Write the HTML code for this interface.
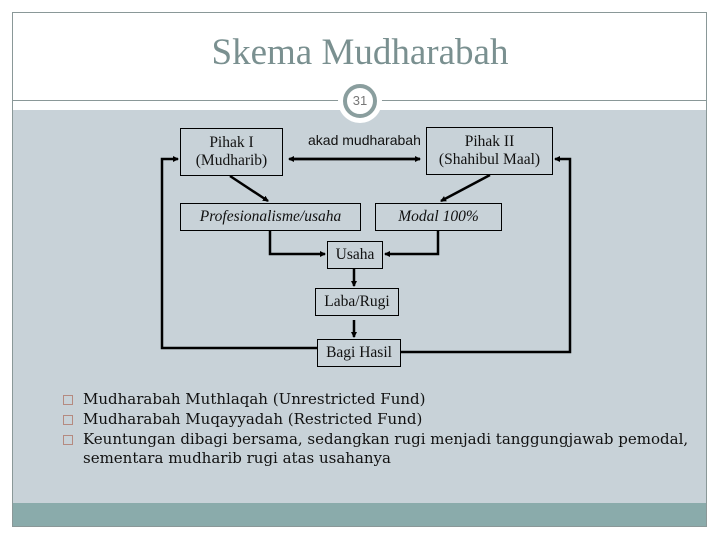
<!DOCTYPE html>
<html><head><meta charset="utf-8"><style>
body{margin:0;width:720px;height:540px;background:#fff;position:relative;overflow:hidden;font-family:"Liberation Serif",serif}
.a{position:absolute}
.box{position:absolute;border:1px solid #000;box-sizing:border-box;display:flex;align-items:center;justify-content:center;text-align:center;font-size:15.5px;line-height:18px;color:#111;white-space:nowrap}
.b{position:absolute;left:63px;width:10px;height:10px;border:1px solid #b58a80;box-sizing:border-box}
.t{position:absolute;left:83px;font-family:"DejaVu Serif",serif;font-size:15px;color:#111;line-height:19px;white-space:nowrap}
</style></head><body>
<div class="a" style="left:12px;top:12px;width:695px;height:515px;border:1px solid #8a9898;box-sizing:border-box"></div>
<div class="a" style="left:13px;top:110px;width:693px;height:393px;background:#c8d2d8"></div>
<div class="a" style="left:13px;top:503px;width:693px;height:23px;background:#8aabab"></div>
<div class="a" style="left:13px;top:100px;width:693px;height:1px;background:#8a9898"></div>
<div class="a" style="left:0;width:720px;top:31px;text-align:center;font-size:37px;color:#7a9090">Skema Mudharabah</div>
<div class="a" style="left:338px;top:79px;width:44px;height:44px;border-radius:50%;background:#fff"></div>
<div class="a" style="left:343px;top:84px;width:34px;height:34px;border-radius:50%;border:4px solid #8a9e9e;box-sizing:border-box;background:#fff;text-align:center;font:13px/26px 'Liberation Sans',sans-serif;color:#777">31</div>
<div class="box" style="left:180px;top:128px;width:103px;height:48px">Pihak I<br>(Mudharib)</div>
<div class="box" style="left:426px;top:127px;width:127px;height:48px">Pihak II<br>(Shahibul Maal)</div>
<div class="a" style="left:308px;top:132px;font:14px 'Liberation Sans',sans-serif;color:#111">akad mudharabah</div>
<div class="box" style="left:180px;top:203px;width:181px;height:28px;font-style:italic">Profesionalisme/usaha</div>
<div class="box" style="left:375px;top:203px;width:127px;height:28px;font-style:italic">Modal 100%</div>
<div class="box" style="left:327px;top:241px;width:56px;height:28px">Usaha</div>
<div class="box" style="left:315px;top:288px;width:84px;height:28px">Laba/Rugi</div>
<div class="box" style="left:317px;top:339px;width:84px;height:28px">Bagi Hasil</div>
<svg class="a" style="left:0;top:0" width="720" height="540">
<defs><marker id="m" markerWidth="6" markerHeight="6" refX="5" refY="3" orient="auto" markerUnits="userSpaceOnUse"><path d="M0,0L6,3L0,6z" fill="#000"/></marker></defs>
<g stroke="#000" stroke-width="2.5" fill="none">
<line x1="290" y1="159" x2="420" y2="159" marker-end="url(#m)"/>
<line x1="420" y1="159" x2="289" y2="159" marker-end="url(#m)"/>
<line x1="230" y1="176" x2="268" y2="201" marker-end="url(#m)"/>
<line x1="490" y1="175" x2="441" y2="201" marker-end="url(#m)"/>
<polyline points="270,231 270,254 325,254" marker-end="url(#m)"/>
<polyline points="438,231 438,254 385,254" marker-end="url(#m)"/>
<line x1="354" y1="269" x2="354" y2="286" marker-end="url(#m)"/>
<line x1="354" y1="320" x2="354" y2="337" marker-end="url(#m)"/>
<polyline points="317,348 162,348 162,159 178,159" marker-end="url(#m)"/>
<polyline points="401,352 570,352 570,159 555,159" marker-end="url(#m)"/>
</g></svg>
<div class="b" style="top:395px"></div><div class="t" style="top:390px">Mudharabah Muthlaqah (Unrestricted Fund)</div>
<div class="b" style="top:415px"></div><div class="t" style="top:410px">Mudharabah Muqayyadah (Restricted Fund)</div>
<div class="b" style="top:435px"></div><div class="t" style="top:430px">Keuntungan dibagi bersama, sedangkan rugi menjadi tanggungjawab pemodal,<br>sementara mudharib rugi atas usahanya</div>
</body></html>
